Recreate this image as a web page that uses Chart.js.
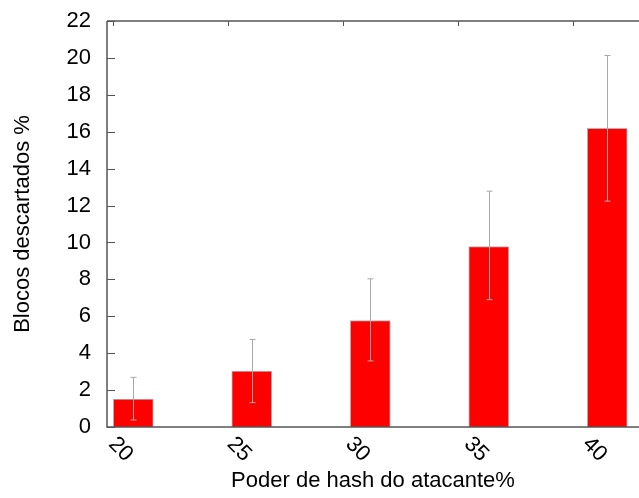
<!DOCTYPE html>
<html>
<head>
<meta charset="utf-8">
<script src="https://cdn.jsdelivr.net/npm/chart.js@4.4.1/dist/chart.umd.min.js"></script>
<style>
  html, body { margin: 0; padding: 0; background: #fff; }
  #wrap { width: 639px; height: 498px; }
</style>
</head>
<body>
<div id="wrap"><canvas id="grafico" width="639" height="498"></canvas></div>
<script>
// Dados
const poderHash = [20, 25, 30, 35, 40];
const descartados = [1.51, 3.03, 5.77, 9.78, 16.18];
const erroMin = [0.38, 1.32, 3.58, 6.9, 12.24];
const erroMax = [2.69, 4.74, 8.03, 12.78, 20.13];
const xTickLabels = ["20", "25", "30", "35", "40"];
// marcas pequenas do eixo superior (artefato do gnuplot)
const topTicks = [19.14, 24.0, 28.83, 33.7, 38.54];

const fonte = "'Liberation Sans', Arial, sans-serif";
const corEixo = "#555555";

// Desenha eixos, barras de erro e rótulos girados do eixo x
const decor = {
  id: "decor",
  afterDatasetsDraw(chart) {
    const { ctx, chartArea: a, scales } = chart;
    const x = scales.x;
    const y = scales.y;
    ctx.save();

    // barras de erro
    ctx.strokeStyle = "#a8a8a8";
    ctx.lineWidth = 1;
    poderHash.forEach((v, i) => {
      const px = Math.round(x.getPixelForValue(v)) + 0.5;
      const lo = y.getPixelForValue(erroMin[i]);
      const hi = y.getPixelForValue(erroMax[i]);
      ctx.beginPath();
      ctx.moveTo(px, lo);
      ctx.lineTo(px, hi);
      ctx.moveTo(px - 3, lo);
      ctx.lineTo(px + 3, lo);
      ctx.moveTo(px - 3, hi);
      ctx.lineTo(px + 3, hi);
      ctx.stroke();
    });

    // eixos
    ctx.strokeStyle = corEixo;
    ctx.lineWidth = 1.5;
    ctx.beginPath();
    ctx.moveTo(a.left, a.top);
    ctx.lineTo(a.left, a.bottom);
    ctx.lineTo(a.right, a.bottom);
    ctx.moveTo(a.left, a.top);
    ctx.lineTo(a.right, a.top);
    ctx.stroke();

    // marcas do eixo y, para dentro
    ctx.lineWidth = 1;
    ctx.beginPath();
    y.ticks.forEach((t) => {
      const py = Math.round(y.getPixelForValue(t.value)) + 0.5;
      ctx.moveTo(a.left, py);
      ctx.lineTo(a.left + 8, py);
    });
    topTicks.forEach((v) => {
      const px = Math.round(x.getPixelForValue(v)) + 0.5;
      ctx.moveTo(px, a.top);
      ctx.lineTo(px, a.top + 5);
    });
    ctx.stroke();

    // rótulos do eixo x girados 45 graus
    ctx.fillStyle = "#000";
    ctx.font = "22px " + fonte;
    ctx.textAlign = "right";
    ctx.textBaseline = "middle";
    poderHash.forEach((v, i) => {
      const px = x.getPixelForValue(v);
      ctx.save();
      ctx.translate(px - 4, a.bottom + 31);
      ctx.rotate(Math.PI / 4);
      ctx.fillText(xTickLabels[i], 0, 0);
      ctx.restore();
    });

    ctx.restore();
  },
};

const ctx = document.querySelector("#grafico").getContext("2d");
new Chart(ctx, {
  type: "bar",
  data: {
    datasets: [
      {
        label: "Blocos descartados %",
        data: poderHash.map((v, i) => ({ x: v, y: descartados[i] })),
        backgroundColor: "#ff0000",
        borderColor: "#b4b4b4",
        borderWidth: 1,
        barThickness: 40,
      },
    ],
  },
  options: {
    responsive: false,
    animation: false,
    layout: { padding: { top: 21, right: 0, left: 0, bottom: 0 } },
    plugins: {
      legend: { display: false },
      tooltip: { enabled: false },
    },
    scales: {
      x: {
        type: "linear",
        offset: false,
        min: 18.89,
        max: 41.34,
        grid: { display: false, offset: false },
        border: { display: false },
        ticks: { display: false },
        title: {
          display: true,
          text: "Poder de hash do atacante%",
          color: "#000",
          font: { family: fonte, size: 22 },
          padding: { top: 0, bottom: 4 },
        },
        afterFit(scale) {
          scale.height = 71;
          scale.paddingLeft = 0;
          scale.paddingRight = 0;
        },
      },
      y: {
        min: 0,
        max: 22,
        grid: { display: false, drawTicks: false },
        border: { display: false },
        ticks: {
          stepSize: 2,
          padding: 16,
          color: "#000",
          font: { family: fonte, size: 22 },
        },
        title: {
          display: true,
          text: "Blocos descartados %",
          color: "#000",
          font: { family: fonte, size: 22 },
          padding: { top: 10, bottom: 0 },
        },
        afterFit(scale) {
          scale.width = 107;
          scale.paddingTop = 0;
          scale.paddingBottom = 0;
        },
      },
    },
  },
  plugins: [decor],
});
</script>
</body>
</html>
